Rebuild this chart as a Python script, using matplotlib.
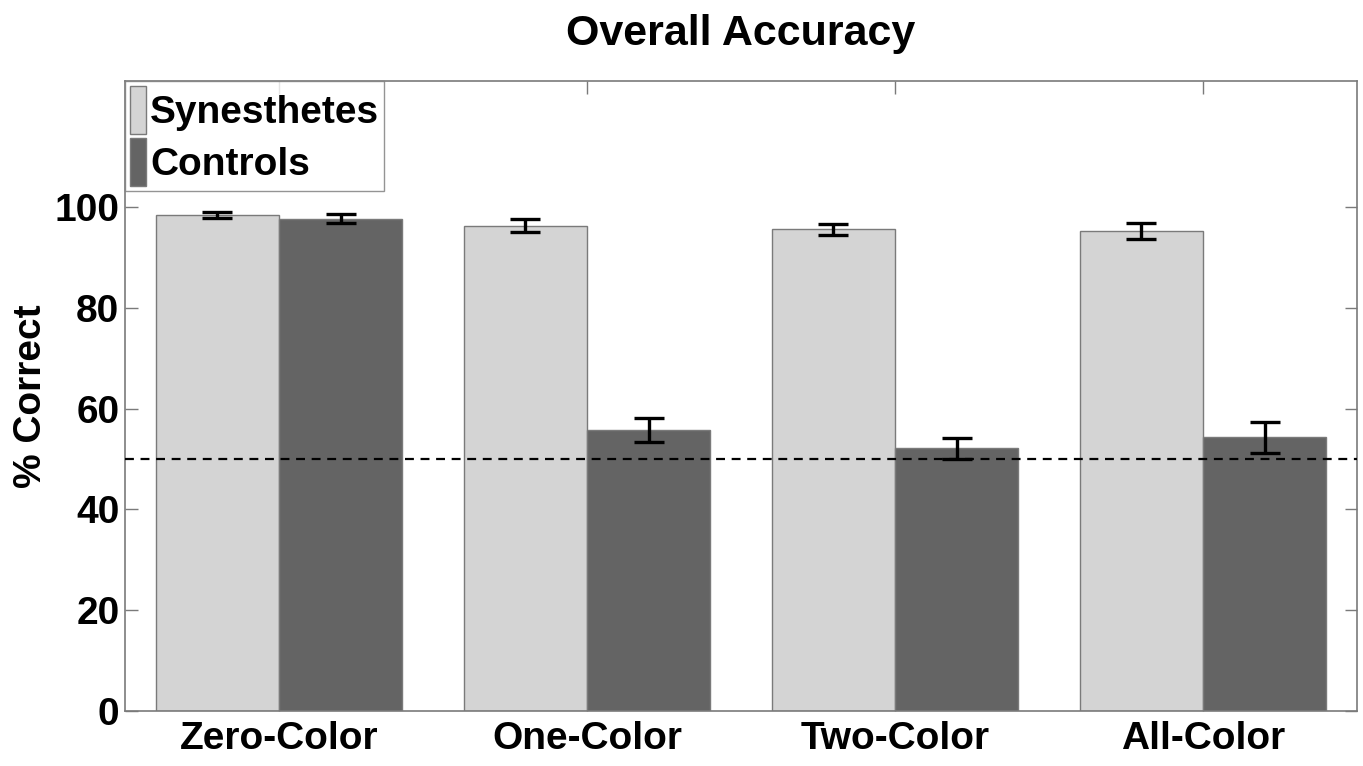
import matplotlib.pyplot as plt
import numpy as np

# accuracy per condition, mean and error (% correct)
conditions = ['Zero-Color', 'One-Color', 'Two-Color', 'All-Color']
syn_mean = [98.4, 96.3, 95.6, 95.2]
syn_err = [0.65, 1.3, 1.1, 1.6]
ctl_mean = [97.7, 55.7, 52.1, 54.3]
ctl_err = [0.85, 2.4, 2.0, 3.1]
chance = 50

plt.rcParams['font.family'] = ['Liberation Sans', 'DejaVu Sans']
plt.rcParams['font.weight'] = 'bold'

fig = plt.figure(figsize=(13.63, 7.66), dpi=100)
ax = fig.add_axes([0.0917, 0.0718, 0.9039, 0.8222])

x = np.arange(1, len(conditions) + 1)
w = 0.4
edge = '#7a7a7a'
ax.bar(x - w / 2, syn_mean, w, color='#d4d4d4', edgecolor=edge, linewidth=1,
       label='Synesthetes', zorder=2)
ax.bar(x + w / 2, ctl_mean, w, color='#646464', edgecolor=edge, linewidth=1,
       label='Controls', zorder=2)
ax.errorbar(x - w / 2, syn_mean, yerr=syn_err, fmt='none', ecolor='black',
            elinewidth=2.4, capsize=11, capthick=2.4, zorder=3)
ax.errorbar(x + w / 2, ctl_mean, yerr=ctl_err, fmt='none', ecolor='black',
            elinewidth=2.4, capsize=11, capthick=2.4, zorder=3)
ax.axhline(chance, color='black', linestyle=(0, (4, 3)), linewidth=1.6, zorder=4)

ax.set_xlim(0.5, 4.5)
ax.set_ylim(0, 125)
ax.set_xticks(x)
ax.set_xticklabels(conditions)
ax.set_yticks(np.arange(0, 101, 20))
ax.tick_params(direction='in', length=9, width=1, color=edge,
               top=True, right=True, labelsize=28)
ax.tick_params(axis='y', pad=4)
ax.tick_params(axis='x', pad=7)
for s in ax.spines.values():
    s.set_color(edge)
    s.set_linewidth(1.2)

ax.set_ylabel('% Correct', fontsize=28, fontweight='bold', labelpad=4)
ax.set_title('Overall Accuracy', fontsize=31, fontweight='bold', pad=26)

leg = ax.legend(loc='upper left', fontsize=28, frameon=True, fancybox=False,
                borderaxespad=0, borderpad=0.13, handlelength=0.4,
                handleheight=1.5, handletextpad=0.12, labelspacing=0.12)
leg.get_frame().set_edgecolor(edge)
leg.get_frame().set_linewidth(1)

plt.savefig('out.png', dpi=100)
